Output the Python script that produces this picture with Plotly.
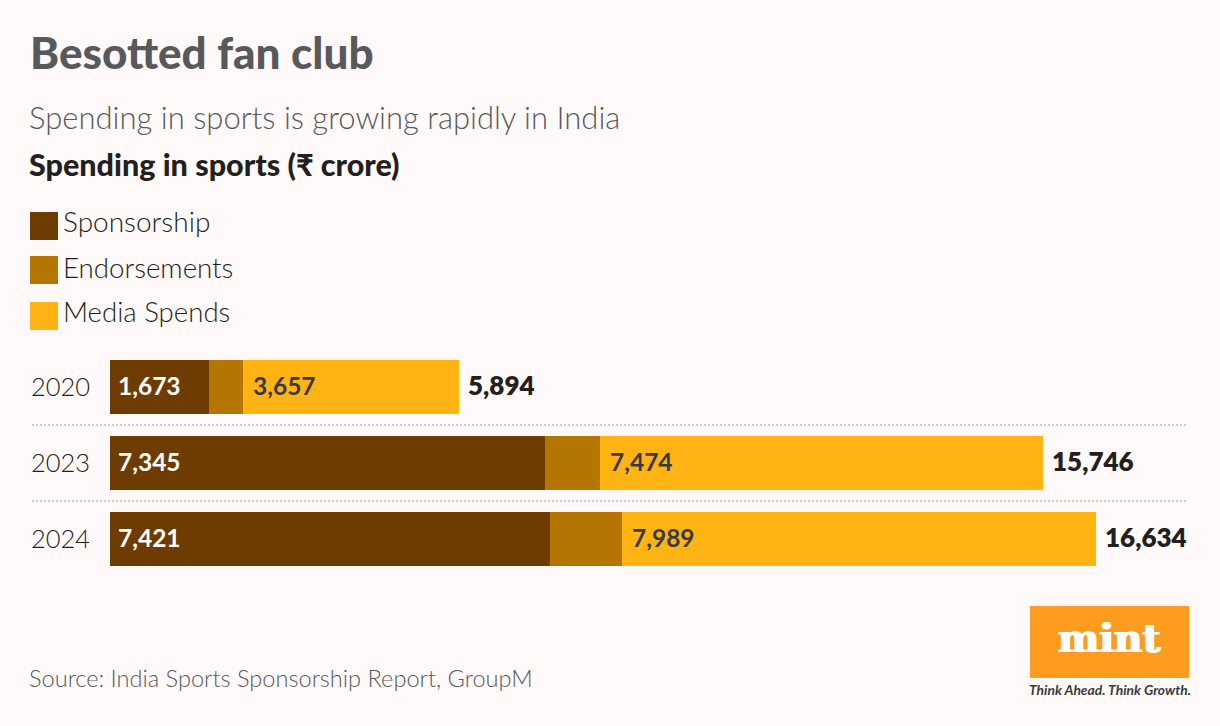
import plotly.graph_objects as go

years = ["2020", "2023", "2024"]
sponsorship = [1673, 7345, 7421]
endorsements = [564, 927, 1224]
media_spends = [3657, 7474, 7989]
totals = [5894, 15746, 16634]

BG = "#fffaf9"
FONT = "Lato"
W, H = 1220, 726
L, T, B = 110, 349, 577
PX_PER_UNIT = 986 / 16634


def px(x):
    return (x - L) / (W - L)


def py(y):
    return (B - y) / (B - T)


def text(x, y, s, size, color="#231f20", weight=300, anchor="left", family=FONT, shadow=None):
    font = dict(family=family, size=size, color=color, weight=weight)
    if shadow:
        font["shadow"] = shadow
    return dict(xref="paper", yref="paper", x=px(x), y=py(y), text=s, showarrow=False,
                xanchor=anchor, yanchor="middle", font=font)


fig = go.Figure()
fig.add_bar(y=years, x=sponsorship, name="Sponsorship", orientation="h", marker_color="#6e3c00", marker_line_width=0)
fig.add_bar(y=years, x=endorsements, name="Endorsements", orientation="h", marker_color="#b47600", marker_line_width=0)
fig.add_bar(y=years, x=media_spends, name="Media Spends", orientation="h", marker_color="#ffb414", marker_line_width=0)

notes = [
    text(28, 52, "Besotted fan club", 44, "#58595b", 900),
    text(27, 117, "Spending in sports is growing rapidly in India", 31, "#58595b", 300),
    text(27, 164, "Spending in sports (₹ crore)", 30.5, "#231f20", 900),
    text(61, 221, "Sponsorship", 28),
    text(61, 267, "Endorsements", 27.7),
    text(61, 311, "Media Spends", 27.6),
    text(27, 678, "Source: India Sports Sponsorship Report, GroupM", 23.6, "#58595b", 300),
    text(1109, 638, "mint", 39, "#ffffff", 700, "center", "DejaVu Serif", "1px 0 0 #ffffff, -1px 0 0 #ffffff"),
    text(1110, 689, "<i>Think Ahead. Think Growth.</i>", 13.8, "#3a3a3c", 700, "center"),
]

for i, year in enumerate(years):
    notes.append(dict(xref="paper", yref="y", x=px(29), y=i, yshift=1, text=year, showarrow=False, xanchor="left",
                      font=dict(family=FONT, size=25.5, color="#231f20", weight=300)))
    notes.append(dict(xref="x", yref="y", x=0, y=i, xshift=6, yshift=2, text=f"{sponsorship[i]:,}",
                      showarrow=False, xanchor="left", font=dict(family=FONT, size=24.5, color="#ffffff", weight=700)))
    notes.append(dict(xref="x", yref="y", x=sponsorship[i] + endorsements[i], y=i, xshift=8, yshift=2,
                      text=f"{media_spends[i]:,}", showarrow=False, xanchor="left",
                      font=dict(family=FONT, size=24.5, color="#3a3a3c", weight=700)))
    notes.append(dict(xref="x", yref="y", x=totals[i], y=i, xshift=7, yshift=2, text=f"{totals[i]:,}",
                      showarrow=False, xanchor="left", font=dict(family=FONT, size=26, color="#231f20", weight=800)))

shapes = []
for y0, colour in [(212, "#6e3c00"), (256, "#b47600"), (302, "#ffb414")]:
    shapes.append(dict(type="rect", xref="paper", yref="paper", x0=px(30), x1=px(58), y0=py(y0), y1=py(y0 + 28),
                       fillcolor=colour, line_width=0))
for y in (425, 501):
    shapes.append(dict(type="line", xref="paper", yref="paper", x0=px(32), x1=px(1188), y0=py(y), y1=py(y),
                       line=dict(color="#d0cccb", width=2, dash="2px 2px")))
shapes.append(dict(type="rect", xref="paper", yref="paper", x0=px(1030), x1=px(1189), y0=py(606), y1=py(678),
                   fillcolor="#fd9c1e", line_width=0))

fig.update_layout(
    width=W, height=H,
    barmode="stack",
    bargap=22 / 76,
    showlegend=False,
    paper_bgcolor=BG,
    plot_bgcolor=BG,
    margin=dict(l=L, r=0, t=T, b=H - B, pad=0),
    xaxis=dict(range=[0, (W - L) / PX_PER_UNIT], visible=False),
    yaxis=dict(type="category", range=[2.5, -0.5], visible=False),
    annotations=notes,
    shapes=shapes,
)

fig.write_html("out.html", post_script="document.body.style.margin='0';document.body.style.background='%s';" % BG,
               config=dict(displayModeBar=False))
